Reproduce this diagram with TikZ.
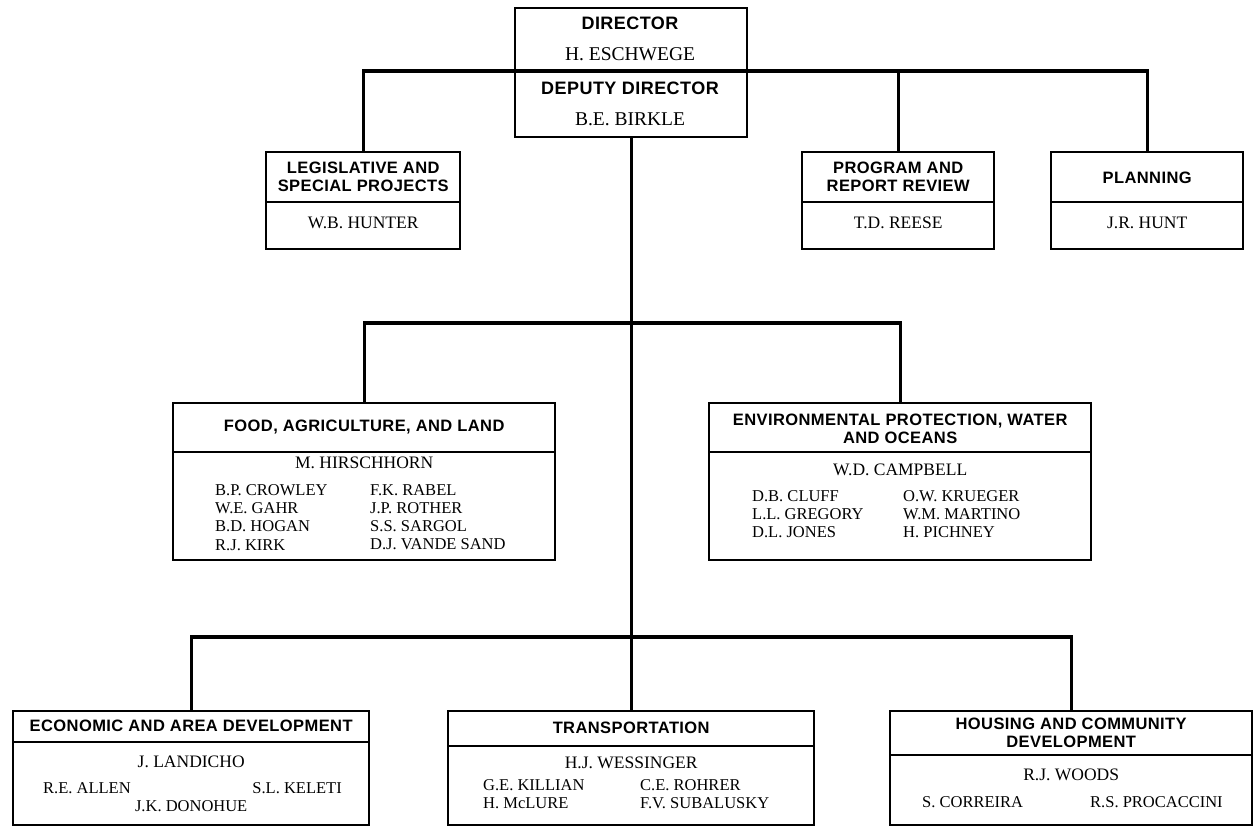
\documentclass[tikz,border=0pt]{standalone}
\usepackage{fontspec}
\setmainfont{Liberation Serif}
\newfontfamily\headfont{Liberation Sans}[LetterSpace=2.5]
\begin{document}
\begin{tikzpicture}[x=1pt, y=-1pt,
  unitbox/.style={draw, line width=2.4pt, inner sep=0pt, anchor=north west},
  divider/.style={line width=1.8pt},
  conn/.style={line width=3.2pt, line cap=rect},
  tophead/.style={font=\headfont\bfseries\fontsize{18}{19}\selectfont, inner sep=0pt},
  head/.style={font=\headfont\bfseries\fontsize{16.5}{17.5}\selectfont, align=center, inner sep=0pt},
  topname/.style={font=\fontsize{19.5}{21}\selectfont, inner sep=0pt},
  chief/.style={font=\fontsize{17.5}{19}\selectfont, inner sep=0pt},
  staff/.style={font=\fontsize{16.5}{18.3}\selectfont, align=left, inner sep=0pt, anchor=north west},
]
\useasboundingbox (0,0) rectangle (1254,827);

% Director / deputy director
\node[unitbox, minimum width=232pt, minimum height=129pt] (top) at (514,7) {};
\draw[divider] ([yshift=-64pt]top.north west) -- ([yshift=-64pt]top.north east);
\node[tophead] (dirT) at (630,23) {DIRECTOR};
\node[topname] (dirN) at (630,54) {H. ESCHWEGE};
\node[tophead] (depT) at (630,88) {DEPUTY DIRECTOR};
\node[topname] (depN) at (630,119) {B.E. BIRKLE};

% Staff offices
\node[unitbox, minimum width=194pt, minimum height=97pt] (leg) at (265,151) {};
\draw[divider] ([yshift=-51pt]leg.north west) -- ([yshift=-51pt]leg.north east);
\node[head] (legT) at (leg.north |- 0,177) {LEGISLATIVE AND\\SPECIAL PROJECTS};
\node[chief] (legN) at (leg.north |- 0,223) {W.B. HUNTER};

\node[unitbox, minimum width=192pt, minimum height=97pt] (prog) at (801,151) {};
\draw[divider] ([yshift=-51pt]prog.north west) -- ([yshift=-51pt]prog.north east);
\node[head] (progT) at (prog.north |- 0,177) {PROGRAM AND\\REPORT REVIEW};
\node[chief] (progN) at (prog.north |- 0,223) {T.D. REESE};

\node[unitbox, minimum width=192pt, minimum height=97pt] (plan) at (1050,151) {};
\draw[divider] ([yshift=-51pt]plan.north west) -- ([yshift=-51pt]plan.north east);
\node[head] (planT) at (plan.north |- 0,178) {PLANNING};
\node[chief] (planN) at (plan.north |- 0,223) {J.R. HUNT};

% Groups, middle row
\node[unitbox, minimum width=382pt, minimum height=157pt] (fal) at (172,402) {};
\draw[divider] ([yshift=-50pt]fal.north west) -- ([yshift=-50pt]fal.north east);
\node[head] (falT) at (fal.north |- 0,427) {FOOD, AGRICULTURE, AND LAND};
\node[chief] (falN) at (fal.north |- 0,463) {M. HIRSCHHORN};
\node[staff] (falA) at (215,484) {B.P. CROWLEY\\W.E. GAHR\\B.D. HOGAN\\R.J. KIRK};
\node[staff] (falB) at (370,484) {F.K. RABEL\\J.P. ROTHER\\S.S. SARGOL\\D.J. VANDE SAND};

\node[unitbox, minimum width=382pt, minimum height=157pt] (env) at (708,402) {};
\draw[divider] ([yshift=-50pt]env.north west) -- ([yshift=-50pt]env.north east);
\node[head] (envT) at (env.north |- 0,429) {ENVIRONMENTAL PROTECTION, WATER\\AND OCEANS};
\node[chief] (envN) at (env.north |- 0,470) {W.D. CAMPBELL};
\node[staff] (envA) at (752,490) {D.B. CLUFF\\L.L. GREGORY\\D.L. JONES};
\node[staff] (envB) at (903,490) {O.W. KRUEGER\\W.M. MARTINO\\H. PICHNEY};

% Groups, bottom row
\node[unitbox, minimum width=356pt, minimum height=114pt] (econ) at (12,710) {};
\draw[divider] ([yshift=-32pt]econ.north west) -- ([yshift=-32pt]econ.north east);
\node[head] (econT) at (econ.north |- 0,726) {ECONOMIC AND AREA DEVELOPMENT};
\node[chief] (econN) at (econ.north |- 0,762) {J. LANDICHO};
\node[staff, anchor=west] (econA) at (43,788) {R.E. ALLEN};
\node[staff, anchor=east] (econB) at (342,788) {S.L. KELETI};
\node[staff, anchor=center] (econC) at (econ.north |- 0,806) {J.K. DONOHUE};

\node[unitbox, minimum width=366pt, minimum height=114pt] (trans) at (447,710) {};
\draw[divider] ([yshift=-36pt]trans.north west) -- ([yshift=-36pt]trans.north east);
\node[head] (transT) at (trans.north |- 0,728) {TRANSPORTATION};
\node[chief] (transN) at (trans.north |- 0,763) {H.J. WESSINGER};
\node[staff] (transA) at (483,779) {G.E. KILLIAN\\H. McLURE};
\node[staff] (transB) at (640,779) {C.E. ROHRER\\F.V. SUBALUSKY};

\node[unitbox, minimum width=362pt, minimum height=114pt] (house) at (889,710) {};
\draw[divider] ([yshift=-45pt]house.north west) -- ([yshift=-45pt]house.north east);
\node[head] (houseT) at (house.north |- 0,733) {HOUSING AND COMMUNITY\\DEVELOPMENT};
\node[chief] (houseN) at (house.north |- 0,775) {R.J. WOODS};
\node[staff, anchor=west] (houseA) at (922,802) {S. CORREIRA};
\node[staff, anchor=west] (houseB) at (1090,802) {R.S. PROCACCINI};

% Reporting lines
\coordinate (tbar) at (630,71);
\coordinate (mbar) at (630,323);
\coordinate (bbar) at (630,637);
\draw[conn] (leg.north) |- (tbar) -| (plan.north);
\draw[conn] (prog.north) -- (prog.north |- tbar);
\draw[conn] (top.south) -- (trans.north);
\draw[conn] (fal.north) |- (mbar) -| (env.north);
\draw[conn] (econ.north) |- (bbar) -| (house.north);
\end{tikzpicture}
\end{document}
